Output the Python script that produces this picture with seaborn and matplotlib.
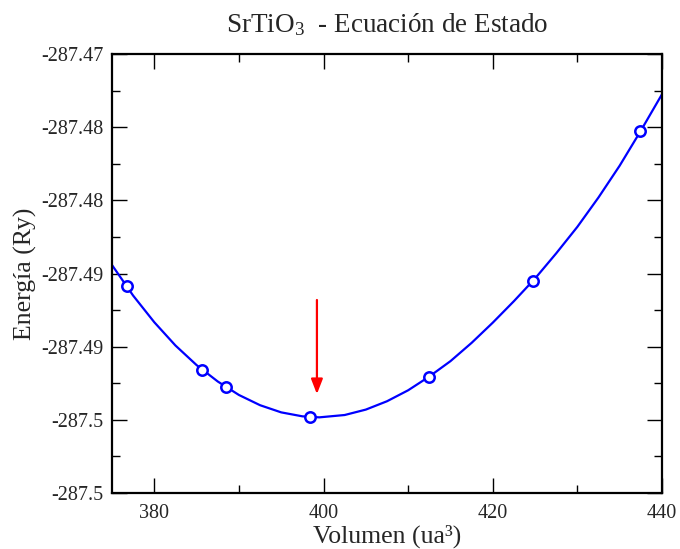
import matplotlib
matplotlib.use("Agg")
import matplotlib.pyplot as plt
import seaborn as sns
import pandas as pd
from matplotlib.ticker import MultipleLocator, FixedLocator

# Fitted equation-of-state curve
curve_vol = [375.0, 377.5, 380.0, 382.5, 385.0, 387.5, 390.0, 392.5, 395.0,
             397.5, 399.5, 402.5, 405.0, 407.5, 410.0, 412.5, 415.0, 417.5,
             420.0, 422.5, 425.0, 427.5, 430.0, 432.5, 435.0, 437.5, 440.0]
curve_energy = [-287.48442, -287.48651, -287.48833, -287.48992, -287.49126,
                -287.49238, -287.49330, -287.49400, -287.49449, -287.49476,
                -287.49483, -287.49467, -287.49430, -287.49373, -287.49298,
                -287.49204, -287.49099, -287.48974, -287.48836, -287.48689,
                -287.48534, -287.48362, -287.48181, -287.47980, -287.47763,
                -287.47524, -287.47275]

# Computed points
point_vol = [376.74, 385.61, 388.45, 398.35, 412.43, 424.79, 437.37]
point_energy = [-287.48586, -287.49160, -287.49274, -287.49479, -287.49208,
                -287.48552, -287.47526]

# Arrow marking the minimum
arrow_vol = 399.22
arrow_start = -287.48681
arrow_end = -287.49324

x_ticks = [380, 400, 420, 440]
y_ticks = [-287.470, -287.475, -287.480, -287.485, -287.490, -287.495, -287.500]
y_tick_labels = ["-287.47", "-287.48", "-287.48", "-287.49", "-287.49", "-287.5", "-287.5"]

title = "SrTiO$_3$  - Ecuación de Estado"
xlabel = "Volumen (ua³)"
ylabel = "Energía (Ry)"

sns.set_style("ticks")
plt.rcParams['font.family'] = ['Liberation Serif', 'DejaVu Serif']
plt.rcParams['mathtext.fontset'] = 'custom'
plt.rcParams['mathtext.rm'] = 'Liberation Serif'
plt.rcParams['mathtext.it'] = 'Liberation Serif:italic'

fig = plt.figure(figsize=(6.8, 5.49), dpi=100)
ax = fig.add_axes([0.1647, 0.102, 0.8088, 0.7996])

curve_df = pd.DataFrame({"V": curve_vol, "E": curve_energy})
pts_df = pd.DataFrame({"V": point_vol, "E": point_energy})

sns.lineplot(data=curve_df, x="V", y="E", ax=ax, color="#0000ff", lw=1.6,
             sort=False, zorder=2)
ax.plot(pts_df["V"], pts_df["E"], linestyle="none", marker="o", markersize=7.5,
        markerfacecolor="white", markeredgecolor="#0000ff", markeredgewidth=1.8,
        zorder=3)

ax.annotate("", xy=(arrow_vol, arrow_end), xytext=(arrow_vol, arrow_start),
            arrowprops=dict(arrowstyle="-|>,head_length=0.9,head_width=0.35",
                            color="red", lw=1.6, shrinkA=0, shrinkB=0))

ax.set_xlim(375, 440)
ax.set_ylim(-287.500, -287.470)
ax.xaxis.set_major_locator(FixedLocator(x_ticks))
ax.xaxis.set_minor_locator(MultipleLocator(10))
ax.yaxis.set_major_locator(FixedLocator(y_ticks))
ax.set_yticklabels(y_tick_labels)
ax.yaxis.set_minor_locator(MultipleLocator(0.0025))

ax.tick_params(which="both", direction="in", top=True, right=True,
               labelsize=14.5, color="black", width=1.0)
ax.tick_params(axis="x", which="both", pad=8)
ax.tick_params(axis="y", which="both", pad=6)
ax.tick_params(which="major", length=11)
ax.tick_params(which="minor", length=5.5)
for s in ax.spines.values():
    s.set_visible(True)
    s.set_linewidth(1.6)
    s.set_color("black")

ax.set_xlabel(xlabel, fontsize=18.5, labelpad=1)
ax.set_ylabel(ylabel, fontsize=18.5, labelpad=3)
ax.set_title(title, fontsize=19.5, pad=16)

fig.savefig("out.png", dpi=100)
